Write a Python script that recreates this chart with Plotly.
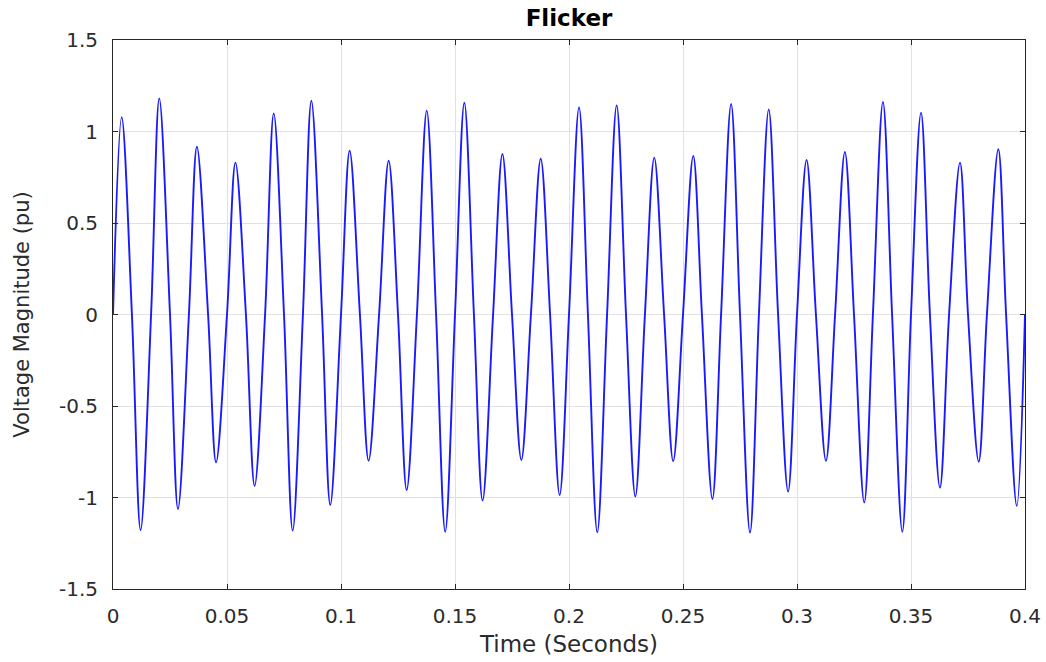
import plotly.graph_objects as go

# Extrema of the flicker waveform (time in s, voltage in pu)
peak_t = [0.0038, 0.0203, 0.0368, 0.0537, 0.0705, 0.0870, 0.1038, 0.1209,
          0.1376, 0.1541, 0.1708, 0.1876, 0.2044, 0.2209, 0.2374, 0.2545,
          0.2711, 0.2876, 0.3042, 0.3210, 0.3377, 0.3544, 0.3715, 0.3883]
peak_v = [1.078, 1.181, 0.917, 0.830, 1.099, 1.168, 0.895, 0.840,
          1.114, 1.157, 0.877, 0.851, 1.132, 1.143, 0.857, 0.866,
          1.150, 1.121, 0.844, 0.888, 1.161, 1.103, 0.830, 0.903]

trough_t = [0.0121, 0.0285, 0.0452, 0.0621, 0.0788, 0.0953, 0.1121, 0.1288,
            0.1457, 0.1621, 0.1791, 0.1959, 0.2124, 0.2291, 0.2457, 0.2629,
            0.2794, 0.2961, 0.3127, 0.3295, 0.3462, 0.3627, 0.3797, 0.3964]
trough_v = [-1.178, -1.063, -0.808, -0.937, -1.181, -1.041, -0.799, -0.959,
            -1.187, -1.017, -0.795, -0.986, -1.190, -0.995, -0.801, -1.008,
            -1.192, -0.968, -0.799, -1.028, -1.187, -0.946, -0.804, -1.046]

# Zero crossings of the waveform
zero_t = [0.0000, 0.0083, 0.0167, 0.0250, 0.0333, 0.0417, 0.0500, 0.0583,
          0.0667, 0.0750, 0.0833, 0.0917, 0.1000, 0.1083, 0.1167, 0.1250,
          0.1333, 0.1417, 0.1500, 0.1583, 0.1667, 0.1750, 0.1833, 0.1917,
          0.2000, 0.2083, 0.2167, 0.2250, 0.2333, 0.2417, 0.2500, 0.2583,
          0.2667, 0.2750, 0.2833, 0.2917, 0.3000, 0.3083, 0.3167, 0.3250,
          0.3333, 0.3417, 0.3500, 0.3583, 0.3667, 0.3750, 0.3833, 0.3917,
          0.4000]

x_ticks = [0, 0.05, 0.1, 0.15, 0.2, 0.25, 0.3, 0.35, 0.4]
x_tick_text = ["0", "0.05", "0.1", "0.15", "0.2", "0.25", "0.3", "0.35", "0.4"]
y_ticks = [-1.5, -1, -0.5, 0, 0.5, 1, 1.5]
y_tick_text = ["-1.5", "-1", "-0.5", "0", "0.5", "1", "1.5"]

# Merge all nodes in time order
nodes = sorted(
    list(zip(peak_t, peak_v)) + list(zip(trough_t, trough_v))
    + [(t, 0.0) for t in zero_t]
)
t_vals = [n[0] for n in nodes]
v_vals = [n[1] for n in nodes]

font_family = "DejaVu Sans, Verdana, sans-serif"
text_color = "#2b2b2b"

fig = go.Figure()
fig.add_trace(go.Scatter(
    x=t_vals, y=v_vals, mode="lines",
    line=dict(color="#1a1aff", width=1.9, shape="spline", smoothing=1.0),
    showlegend=False, hoverinfo="skip",
))

axis_common = dict(
    showline=True, linecolor="#262626", linewidth=1, mirror="ticks",
    ticks="inside", ticklen=5, tickcolor="#262626", tickwidth=1,
    showgrid=True, gridcolor="#e1e1e1", gridwidth=1,
    zeroline=False, automargin=False,
    tickfont=dict(family=font_family, size=20, color=text_color),
)

fig.update_xaxes(
    range=[0, 0.4], tickvals=x_ticks, ticktext=x_tick_text,
    ticklabelstandoff=9,
    title=dict(text="Time (Seconds)", font=dict(family=font_family, size=23, color=text_color), standoff=8),
    **axis_common,
)
fig.update_yaxes(
    range=[-1.5, 1.5], tickvals=y_ticks, ticktext=y_tick_text,
    ticklabelstandoff=10,
    title=dict(text="Voltage Magnitude (pu)", font=dict(family=font_family, size=21, color=text_color), standoff=23),
    **axis_common,
)

fig.update_layout(
    width=1046, height=662,
    margin=dict(l=113, r=21, t=40, b=73),
    paper_bgcolor="white", plot_bgcolor="white",
    title=dict(text="<b>Flicker</b>", x=0.5, xanchor="center", xref="paper",
               y=1 - 18 / 662, yanchor="middle",
               font=dict(family=font_family, size=23, color="#000000")),
)

fig.write_html("out.html")
